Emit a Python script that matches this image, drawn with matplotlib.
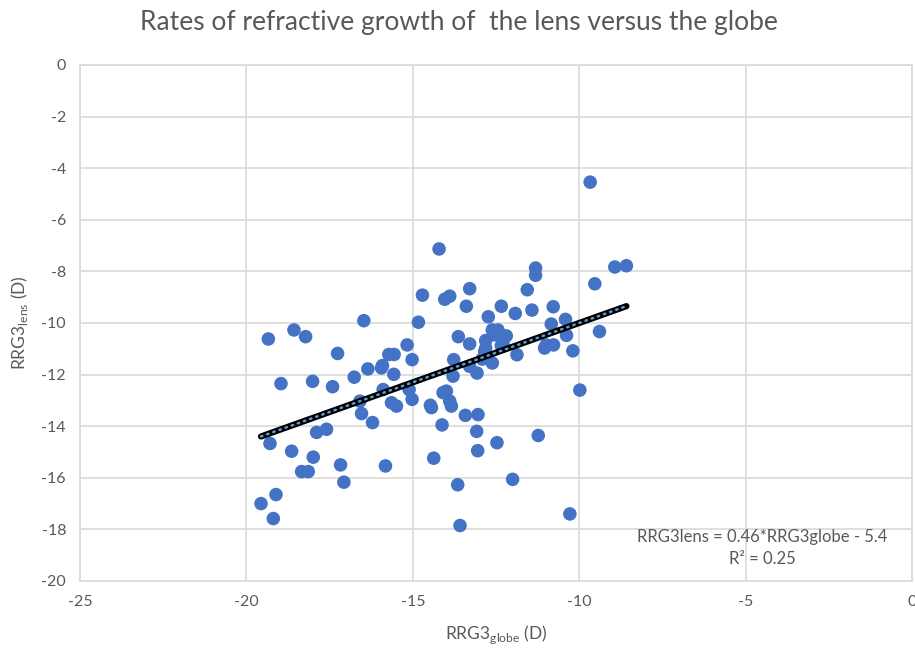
import numpy as np
import matplotlib.pyplot as plt

# ==========================================================
# DATA
# ==========================================================

rrg3_globe = [
    -9.67, -14.21, -11.31, -11.31, -8.93, -8.58, -9.53, -13.29, -11.56, -14.71,
    -14.04, -13.89, -13.39, -12.34, -10.78, -11.42, -11.92, -12.73, -10.41, -16.47,
    -14.83, -10.84, -9.39, -18.57, -19.34, -18.22, -12.61, -12.44, -12.54, -12.19,
    -10.38, -13.63, -12.81, -13.29, -12.29, -12.34, -10.99, -10.77, -11.04, -10.19,
    -11.87, -12.81, -12.84, -15.17, -17.26, -15.72, -15.56, -15.02, -15.91, -15.94,
    -16.35, -15.57, -16.76, -18.96, -18.01, -17.41, -15.89, -16.59, -15.64, -15.49,
    -15.02, -15.11, -16.54, -16.21, -17.89, -17.59, -19.29, -18.64, -17.99, -18.34,
    -18.14, -17.17, -17.07, -15.82, -19.11, -19.56, -19.19, -14.37, -14.47, -14.44,
    -13.84, -13.89, -13.42, -13.04, -14.12, -13.08, -12.47, -11.23, -13.05, -13.65,
    -12.00, -13.58, -10.28, -13.77, -13.29, -13.07, -12.91, -12.61, -12.77, -13.79,
    -14.09, -13.99, -9.98,
]

rrg3_lens = [
    -4.54, -7.13, -7.87, -8.15, -7.83, -7.78, -8.48, -8.67, -8.71, -8.92,
    -9.08, -8.96, -9.35, -9.35, -9.37, -9.50, -9.63, -9.76, -9.86, -9.91,
    -9.97, -10.04, -10.33, -10.27, -10.62, -10.53, -10.27, -10.27, -10.46, -10.50,
    -10.48, -10.53, -10.68, -10.81, -10.81, -10.88, -10.85, -10.85, -10.97, -11.08,
    -11.23, -10.97, -11.10, -10.85, -11.18, -11.22, -11.22, -11.42, -11.65, -11.74,
    -11.78, -11.99, -12.10, -12.35, -12.26, -12.47, -12.58, -13.03, -13.09, -13.22,
    -12.96, -12.58, -13.51, -13.86, -14.24, -14.12, -14.67, -14.97, -15.20, -15.76,
    -15.76, -15.50, -16.17, -15.54, -16.65, -17.00, -17.58, -15.24, -13.19, -13.28,
    -13.22, -13.03, -13.58, -13.55, -13.95, -14.20, -14.64, -14.36, -14.95, -16.27,
    -16.06, -17.85, -17.40, -11.42, -11.68, -11.94, -11.40, -11.55, -11.27, -12.06,
    -12.70, -12.64, -12.60,
]

# Excel linear trendline as printed on the chart
SLOPE = 0.46
INTERCEPT = -5.4
R2 = 0.25

x_ticks = [-25, -20, -15, -10, -5, 0]
y_ticks = [0, -2, -4, -6, -8, -10, -12, -14, -16, -18, -20]

TEXT_GREY = "#595959"
POINT_BLUE = "#4472c4"
GRID_GREY = "#d9d9d9"

plt.rcParams["font.family"] = ["Lato", "DejaVu Sans"]
plt.rcParams["axes.unicode_minus"] = False

# ==========================================================
# PLOT
# ==========================================================

fig = plt.figure(figsize=(9.15, 6.48), dpi=100)
ax = fig.add_axes([0.0874, 0.1034, 0.9093, 0.7963])

ax.scatter(rrg3_globe, rrg3_lens, s=95, c=POINT_BLUE, edgecolors="none", zorder=3)

xs = np.array([min(rrg3_globe), max(rrg3_globe)])
ys = SLOPE * xs + INTERCEPT
ax.plot(xs, ys, color="black", linewidth=4.5, solid_capstyle="round", zorder=4)
ax.plot(xs, ys, color="#5b9bd5", linewidth=1.8, linestyle=(0, (0.6, 2.0)),
        dash_capstyle="round", zorder=5)

ax.set_xlim(-25, 0)
ax.set_ylim(-20, 0)
ax.set_xticks(x_ticks)
ax.set_yticks(y_ticks)
ax.grid(True, color=GRID_GREY, linewidth=1.2)
ax.set_axisbelow(True)
ax.tick_params(length=0, labelsize=11.5, labelcolor=TEXT_GREY, pad=10)

for side in ax.spines.values():
    side.set_color(GRID_GREY)
    side.set_linewidth(1.2)

ax.set_xlabel(r"RRG3$_{\mathregular{globe}}$ (D)", fontsize=12.5, color=TEXT_GREY, labelpad=10)
ax.set_ylabel(r"RRG3$_{\mathregular{lens}}$ (D)", fontsize=12.5, color=TEXT_GREY, labelpad=8)

fig.text(0.502, 0.965, "Rates of refractive growth of  the lens versus the globe",
         ha="center", va="center", fontsize=19, color=TEXT_GREY)

ax.text(
    -4.49, -18.72,
    f"RRG3lens = {SLOPE}*RRG3globe - {abs(INTERCEPT)}\nR\u00b2 = {R2}",
    ha="center", va="center", fontsize=12, color=TEXT_GREY, linespacing=1.45
)

fig.savefig("out.png", dpi=100)
